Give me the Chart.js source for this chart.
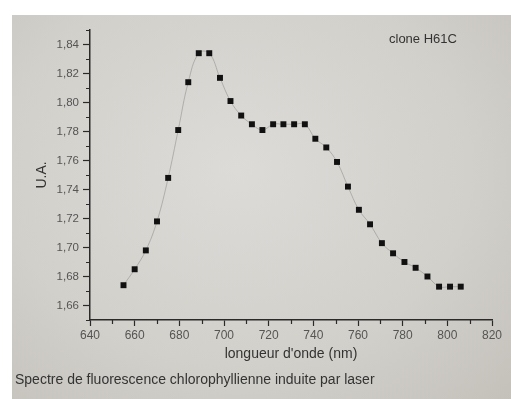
<!DOCTYPE html>
<html>
<head>
<meta charset="utf-8">
<script src="https://cdn.jsdelivr.net/npm/chart.js@4.4.1/dist/chart.umd.min.js"></script>
<style>
	html, body { margin: 0; padding: 0; background: #fff; }
	#wrap { position: relative; width: 511px; height: 399px; overflow: hidden; }
	#paper {
		position: absolute; left: 12px; top: 15px; right: 0; bottom: 0;
		background: radial-gradient(ellipse at 45% 40%, #dddbd7 0%, #d2d0cb 60%, #c4c1bb 100%);
	}
	#chart { position: absolute; left: 0; top: 0; }
	.txt { position: absolute; font-family: "Liberation Sans", Arial, sans-serif; color: #333; white-space: nowrap; }
	#clone { left: 389px; top: 31px; font-size: 13px; }
	#caption { left: 15px; top: 371px; font-size: 14px; }
</style>
</head>
<body>
<div id="wrap">
	<div id="paper"></div>
	<canvas id="chart" width="511" height="399"></canvas>
	<div class="txt" id="clone">clone H61C</div>
	<div class="txt" id="caption">Spectre de fluorescence chlorophyllienne induite par laser</div>
</div>
<script>
const wavelengths = [655, 660, 665, 670, 675, 679.5, 684, 688.7, 693.4, 698.2, 702.9, 707.7, 712.5, 717.2, 722,
	726.6, 731.4, 736.2, 740.9, 745.8, 750.6, 755.5, 760.4, 765.4, 770.7, 775.7, 780.8, 785.8, 791.1, 796.3, 801.2, 806];
const intensity = [1.674, 1.685, 1.698, 1.718, 1.748, 1.781, 1.814, 1.834, 1.834, 1.817, 1.801, 1.791, 1.785, 1.781, 1.785,
	1.785, 1.785, 1.785, 1.775, 1.769, 1.759, 1.742, 1.726, 1.716, 1.703, 1.696, 1.690, 1.686, 1.680, 1.673, 1.673, 1.673];
const xTicks = [640, 660, 680, 700, 720, 740, 760, 780, 800, 820];
const yTicks = [1.66, 1.68, 1.70, 1.72, 1.74, 1.76, 1.78, 1.80, 1.82, 1.84];
const xMinor = [650, 670, 690, 710, 730, 750, 770, 790, 810];
const yMinor = [1.65, 1.67, 1.69, 1.71, 1.73, 1.75, 1.77, 1.79, 1.81, 1.83, 1.85];

const axisColor = '#2a2a2a';
const labelColor = '#555';

// petites graduations
const minorTicks = {
	id: 'minorTicks',
	afterDraw(chart) {
		const c = chart.ctx;
		const xs = chart.scales.x, ys = chart.scales.y;
		c.save();
		c.strokeStyle = axisColor;
		c.lineWidth = 1.2;
		c.beginPath();
		xMinor.forEach(v => {
			const px = Math.round(xs.getPixelForValue(v)) + 0.5;
			c.moveTo(px, chart.chartArea.bottom);
			c.lineTo(px, chart.chartArea.bottom + 4);
		});
		yMinor.forEach(v => {
			const py = Math.round(ys.getPixelForValue(v)) + 0.5;
			c.moveTo(chart.chartArea.left, py);
			c.lineTo(chart.chartArea.left - 4, py);
		});
		c.stroke();
		c.restore();
	}
};

new Chart(document.getElementById('chart'), {
	type: 'scatter',
	data: {
		datasets: [{
			data: wavelengths.map((w, i) => ({ x: w, y: intensity[i] })),
			showLine: true,
			tension: 0.4,
			borderColor: 'rgba(140,140,140,0.55)',
			borderWidth: 1,
			pointStyle: 'rect',
			pointRadius: 4.2,
			pointBorderWidth: 0,
			pointBackgroundColor: '#111',
		}]
	},
	plugins: [minorTicks],
	options: {
		responsive: false,
		animation: false,
		layout: { padding: { left: 0, top: 30, right: 19, bottom: 0 } },
		plugins: { legend: { display: false }, tooltip: { enabled: false } },
		scales: {
			x: {
				type: 'linear',
				min: 640, max: 820,
				afterBuildTicks: s => { s.ticks = xTicks.map(v => ({ value: v })); },
				afterFit: s => { s.height = 79; },
				border: { color: axisColor, width: 1.5 },
				grid: { drawOnChartArea: false, drawTicks: true, tickLength: 6, color: axisColor, tickWidth: 1.2 },
				ticks: {
					color: labelColor, padding: 2, maxRotation: 0,
					font: { family: 'Liberation Sans', size: 12 },
				},
				title: {
					display: true, text: "longueur d'onde (nm)", color: '#333',
					font: { family: 'Liberation Sans', size: 14 },
					padding: { top: 0, bottom: 36 }
				}
			},
			y: {
				min: 1.65, max: 1.85,
				afterBuildTicks: s => { s.ticks = yTicks.map(v => ({ value: v })); },
				afterFit: s => { s.width = 90; },
				border: { color: axisColor, width: 1.5 },
				grid: { drawOnChartArea: false, drawTicks: true, tickLength: 7, color: axisColor, tickWidth: 1.2 },
				ticks: {
					color: labelColor, padding: 4,
					font: { family: 'Liberation Sans', size: 11.5 },
					callback: v => v.toFixed(2).replace('.', ',')
				},
				title: {
					display: true, text: 'U.A.', color: '#333',
					font: { family: 'Liberation Sans', size: 14 },
					padding: { top: 34, bottom: 0 }
				}
			}
		}
	}
});
</script>
</body>
</html>
